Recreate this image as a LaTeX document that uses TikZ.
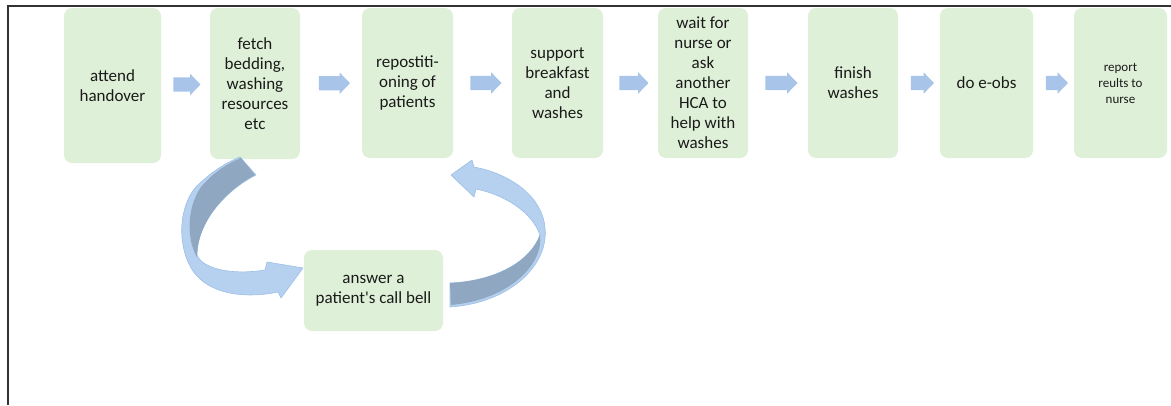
\documentclass[tikz,border=0pt]{standalone}
\usepackage{fontspec}
\setmainfont{Carlito}
\usetikzlibrary{shapes.arrows,calc}

\definecolor{stepgreen}{HTML}{DFF0D8}
\definecolor{flowblue}{HTML}{A9C4E9}
\definecolor{ribbonlight}{HTML}{B6D1EF}
\definecolor{ribbonedge}{HTML}{9CBFE6}
\definecolor{ribbondark}{HTML}{8FA7C0}
\definecolor{steptext}{HTML}{1A1A1A}

\tikzset{
  stepbox/.style={rounded corners=8pt, fill=stepgreen, draw=none,
    align=center, text=steptext, inner sep=0pt,
    font=\fontsize{17}{20}\selectfont},
  flow/.style={single arrow, fill=flowblue, draw=none, inner sep=7pt,
    minimum width=21pt, single arrow head extend=3.5pt,
    single arrow tip angle=92, anchor=center},
  ribbon/.style={fill=ribbonlight, draw=ribbonedge, line width=0.6pt, line join=round},
  ribbonback/.style={fill=ribbondark, draw=none},
}

\begin{document}
\begin{tikzpicture}[x=1pt,y=-1pt]
  \useasboundingbox (0,0) rectangle (1171,405);

  % page frame (top and left edges)
  \draw[line width=1.6pt, black!80] (8,405) -- (8,6) -- (1171,6);

  % process steps
  \node[stepbox, minimum width=97pt, minimum height=155pt] (b1) at (112.5,85.5) {attend\\handover};
  \node[stepbox, minimum width=90pt, minimum height=151pt] (b2) at (255,83.5) {fetch\\bedding,\\washing\\resources\\etc};
  \node[stepbox, minimum width=91pt, minimum height=150pt] (b3) at (407.5,83) {repostiti-\\oning of\\patients};
  \node[stepbox, minimum width=91pt, minimum height=150pt] (b4) at (557.5,83) {support\\breakfast\\and\\washes};
  \node[stepbox, minimum width=90pt, minimum height=150pt] (b5) at (703,83) {wait for\\nurse or\\ask\\another\\HCA to\\help with\\washes};
  \node[stepbox, minimum width=90pt, minimum height=150pt] (b6) at (853,83) {finish\\washes};
  \node[stepbox, minimum width=93pt, minimum height=150pt] (b7) at (986.5,83) {do e-obs};
  \node[stepbox, minimum width=93pt, minimum height=150pt,
        font=\fontsize{13}{16}\selectfont] (b8) at (1120.5,83) {report\\reults to\\nurse};

  % interruption step
  \node[stepbox, minimum width=139pt, minimum height=81pt] (cb) at (373.5,290.5) {answer a\\patient\textquotesingle s call bell};

  % block arrows between consecutive steps
  \node[flow, minimum height=27pt] (a1) at ($(b1.east)!0.5!(b2.west)+(-2,0)$ |- 0,83) {};
  \node[flow, minimum height=31pt] (a2) at ($(b2.east)!0.5!(b3.west)$ |- 0,83) {};
  \node[flow, minimum height=31pt] (a3) at ($(b3.east)!0.5!(b4.west)$ |- 0,83) {};
  \node[flow, minimum height=29pt] (a4) at ($(b4.east)!0.5!(b5.west)$ |- 0,83) {};
  \node[flow, minimum height=32pt] (a5) at ($(b5.east)!0.5!(b6.west)$ |- 0,83) {};
  \node[flow, minimum height=23pt] (a6) at ($(b6.east)!0.5!(b7.west)$ |- 0,83) {};
  \node[flow, minimum height=22pt] (a7) at ($(b7.east)!0.5!(b8.west)$ |- 0,83) {};

  % curved ribbon arrow: fetching -> call bell
  \path[ribbon] (240,157) -- (256,175)
    .. controls (226,190) and (197,222) .. (197,255)
    .. controls (203,270) and (235,275) .. (265,270)
    -- (267,262) -- (303,268) -- (281,298) -- (278,292)
    .. controls (240,300) and (203,292) .. (190,266)
    .. controls (176,240) and (180,200) .. (200,183)
    .. controls (212,172) and (225,163) .. cycle;
  \path[ribbonback] (241,158) -- (255,175)
    .. controls (226,190) and (197,222) .. (197,257)
    .. controls (188,243) and (185,210) .. (201,187)
    .. controls (213,173) and (226,164) .. cycle;

  % curved ribbon arrow: call bell -> repositioning
  \path[ribbon] (450,283)
    .. controls (495,281) and (530,262) .. (540,235)
    .. controls (532,212) and (505,195) .. (476,189)
    -- (474,197) -- (451,175) -- (472,160) -- (474,167)
    .. controls (512,174) and (543,198) .. (545,228)
    .. controls (549,265) and (510,303) .. (450,307) -- cycle;
  \path[ribbonback] (450,283)
    .. controls (495,281) and (530,262) .. (540,235)
    .. controls (544,265) and (508,300) .. (451,305) -- cycle;
\end{tikzpicture}
\end{document}
